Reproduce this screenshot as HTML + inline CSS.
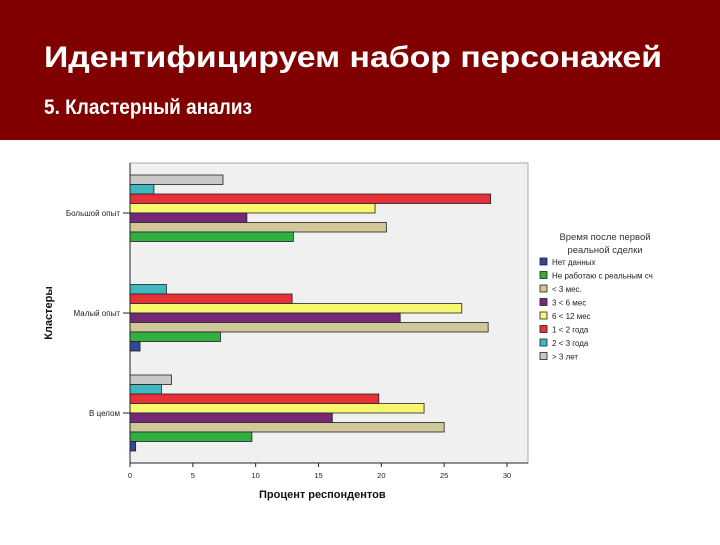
<!DOCTYPE html>
<html><head><meta charset="utf-8"><style>
body{margin:0;width:720px;height:540px;overflow:hidden;background:#fff;font-family:"Liberation Sans","Noto Sans CJK SC",sans-serif}
</style></head><body>
<svg width="720" height="540" xmlns="http://www.w3.org/2000/svg">
<rect x="0" y="0" width="720" height="140" fill="#800000"/>
<text x="44" y="67" fill="#fff" font-size="30" font-weight="bold" textLength="618" lengthAdjust="spacingAndGlyphs">Идентифицируем набор персонажей</text>
<text x="44" y="114" fill="#fff" font-size="21" font-weight="bold" textLength="208" lengthAdjust="spacingAndGlyphs">5. Кластерный анализ</text>
<rect x="130" y="163" width="398" height="300" fill="#f0f0f0" stroke="#aaa" stroke-width="1"/>
<g id="bars"></g>
<g id="axes"></g>
<text x="259" y="498" font-size="11" font-weight="bold" fill="#111">Процент респондентов</text>
<text transform="translate(52,313) rotate(-90)" text-anchor="middle" font-size="11" font-weight="bold" fill="#111">Кластеры</text>
<g id="legend"></g>
</svg>
<script>
const categories=["Большой опыт","Малый опыт","В целом"];
const seriesNames=["> 3 лет","2 < 3 года","1 < 2 года","6 < 12 мес","3 < 6 мес","< 3 мес.","Не работаю с реальным сч","Нет данных"];
const seriesColors=["#c8c8c8","#40b8c0","#e83038","#f8f870","#782878","#d0c898","#30b040","#304898"];
const legendOrder=[7,6,5,4,3,2,1,0];
const valsGrey=[7.4,0,3.3];
const valsCyan=[1.9,2.9,2.5];
const valsRed=[28.7,12.9,19.8];
const valsYellow=[19.5,26.4,23.4];
const valsPurple=[9.3,21.5,16.1];
const valsTan=[20.4,28.5,25.0];
const valsGreen=[13.0,7.2,9.7];
const valsBlue=[0,0.8,0.45];
const xTicks=[0,5,10,15,20,25,30];
const series=[valsGrey,valsCyan,valsRed,valsYellow,valsPurple,valsTan,valsGreen,valsBlue];
const NS="http://www.w3.org/2000/svg";
const x0=130,xScale=(507-130)/30,plotTop=163,plotH=300;
const X=v=>x0+v*xScale;
const groupH=plotH/categories.length,barH=9.5;
const Yc=i=>plotTop+groupH*(i+0.5);
function mk(t,a){const e=document.createElementNS(NS,t);for(const k in a)e.setAttribute(k,a[k]);return e;}
const bars=document.getElementById('bars'),axes=document.getElementById('axes'),leg=document.getElementById('legend');
categories.forEach((c,i)=>{
  const top=Yc(i)-barH*4;
  series.forEach((s,j)=>{
    if(s[i]<=0)return;
    const r=mk('rect',{x:X(0),y:top+j*barH,width:X(s[i])-X(0),height:barH,fill:seriesColors[j],stroke:'#222','stroke-width':0.8});
    
    
    bars.appendChild(r);
  });
  const t=mk('text',{x:120,y:Yc(i)+3,'text-anchor':'end','font-size':8,fill:'#222'});
  t.textContent=c;
  
  
  axes.appendChild(t);
  axes.appendChild(mk('line',{x1:123,x2:130,y1:Yc(i),y2:Yc(i),stroke:'#222'}));
});
axes.appendChild(mk('line',{x1:130,x2:130,y1:163,y2:463,stroke:'#222'}));
axes.appendChild(mk('line',{x1:130,x2:528,y1:463,y2:463,stroke:'#222'}));
xTicks.forEach(v=>{
  axes.appendChild(mk('line',{x1:X(v),x2:X(v),y1:463,y2:467,stroke:'#222'}));
  const t=mk('text',{x:X(v),y:478,'text-anchor':'middle','font-size':7.5,fill:'#222'});
  t.textContent=v;
  
  
  axes.appendChild(t);
});
const lt1=mk('text',{x:605,y:240,'text-anchor':'middle','font-size':9.5,fill:'#333'});lt1.textContent='Время после первой';


leg.appendChild(lt1);
const lt2=mk('text',{x:605,y:253,'text-anchor':'middle','font-size':9.5,fill:'#333'});lt2.textContent='реальной сделки';


leg.appendChild(lt2);
legendOrder.forEach((j,k)=>{
  const y=258+k*13.5;
  const r=mk('rect',{x:540,y:y,width:7,height:7,fill:seriesColors[j],stroke:'#222','stroke-width':0.8});
  
  
  leg.appendChild(r);
  const t=mk('text',{x:552,y:y+7,'font-size':8,fill:'#222'});
  t.textContent=seriesNames[j];
  
  
  leg.appendChild(t);
});
</script>
</body></html>
